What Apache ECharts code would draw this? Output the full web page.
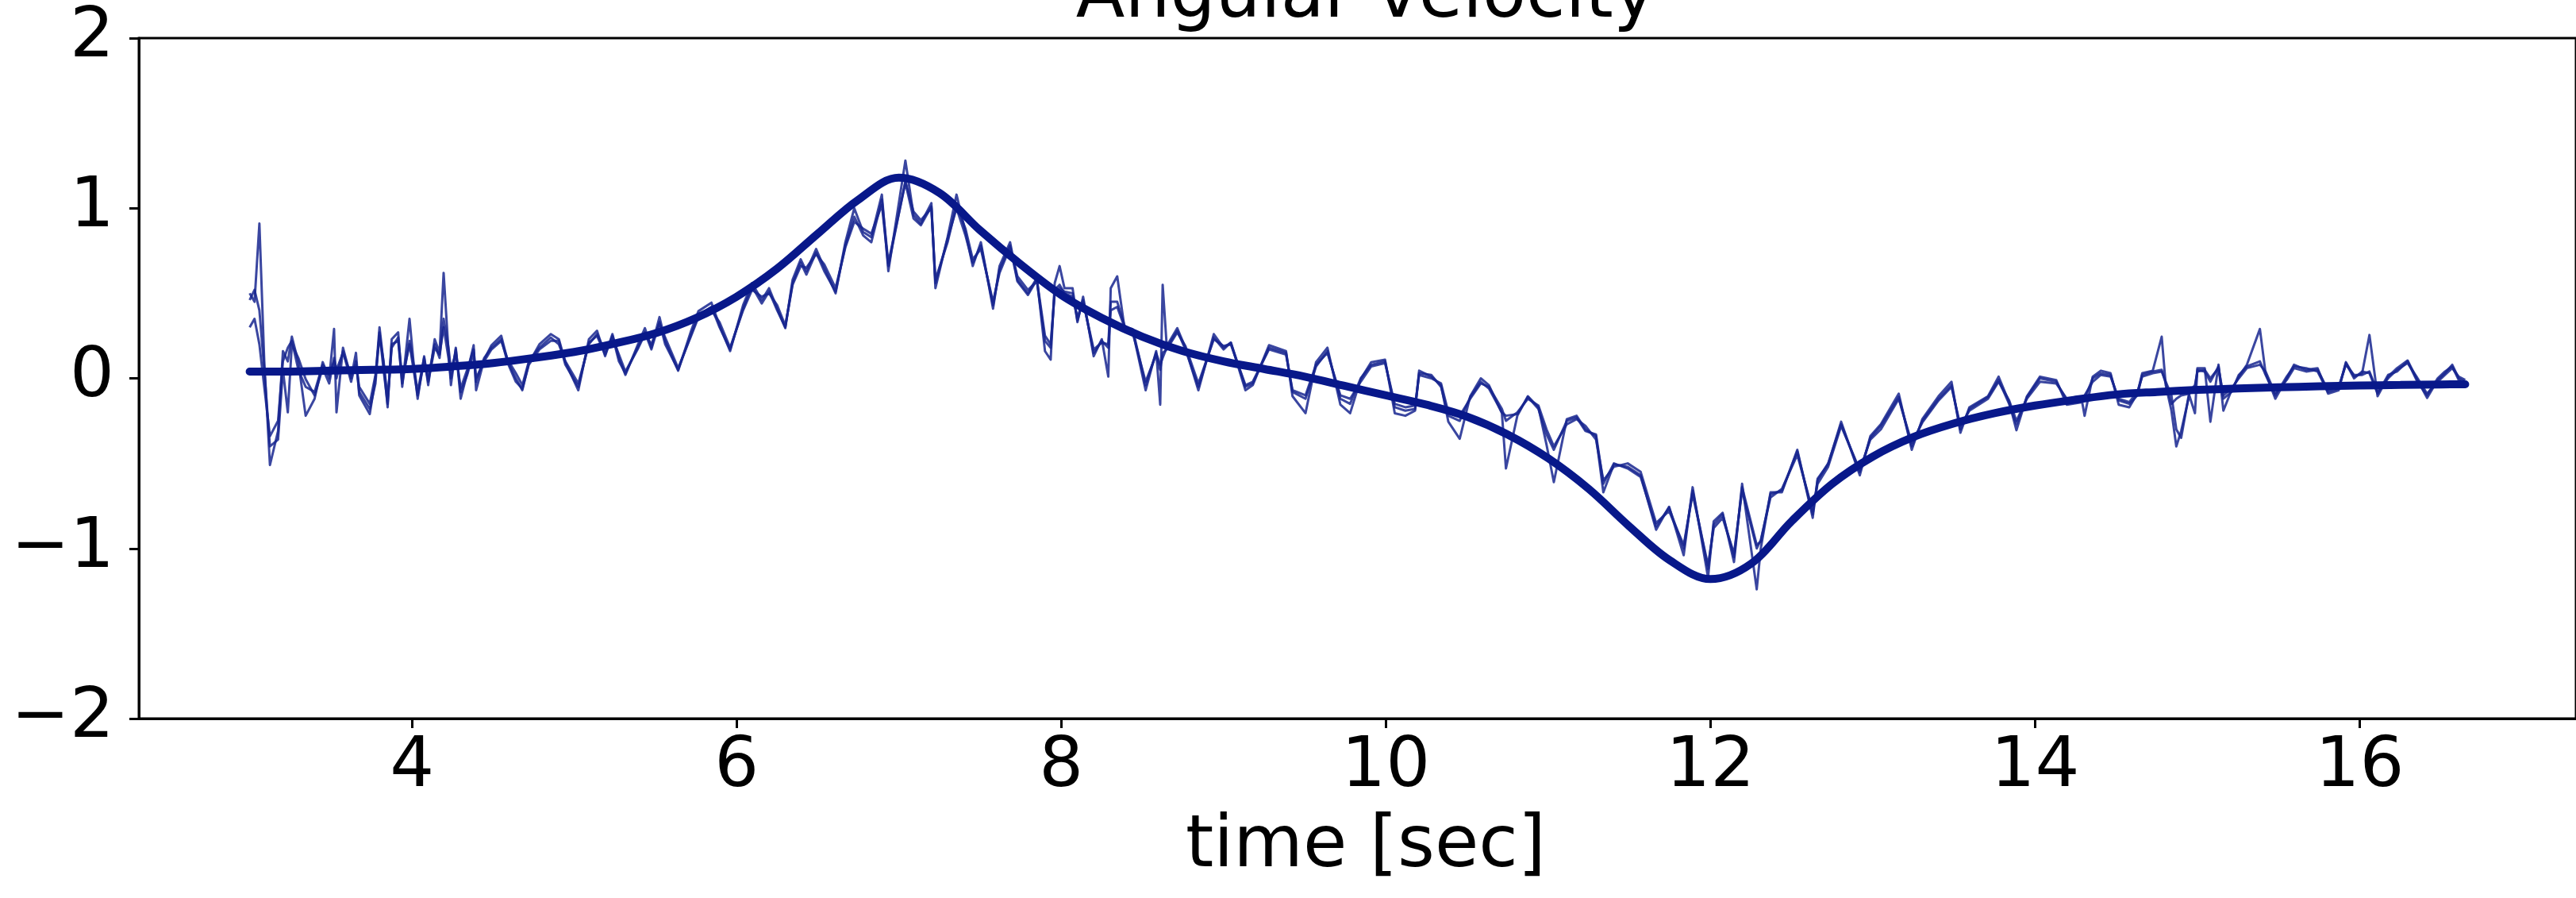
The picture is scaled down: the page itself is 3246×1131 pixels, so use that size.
<!DOCTYPE html>
<html>
<head>
<meta charset="utf-8">
<title>Angular velocity</title>
<style>
  html, body { margin: 0; padding: 0; background: #ffffff; }
  #chart { width: 3246px; height: 1131px; }
</style>
<script src="https://cdn.jsdelivr.net/npm/echarts@6/dist/echarts.min.js"></script>
</head>
<body>
<div id="chart"></div>
<script>
// Fitted angular velocity profile [rad/s] against time [sec]
const fitT = [3.00, 3.25, 3.50, 3.75, 4.00, 4.25, 4.50, 4.75, 5.00, 5.25, 5.50, 5.75,
  6.00, 6.25, 6.50, 6.75, 7.00, 7.25, 7.50, 7.75, 8.00, 8.25, 8.50, 8.75,
  9.00, 9.25, 9.50, 9.75, 10.00, 10.25, 10.50, 10.75, 11.00, 11.25, 11.50, 11.75,
  12.00, 12.25, 12.50, 12.75, 13.00, 13.25, 13.50, 13.75, 14.00, 14.25, 14.50, 14.75,
  15.00, 15.25, 15.50, 15.75, 16.00, 16.25, 16.50, 16.65];
const fitV = [0.04, 0.04, 0.045, 0.05, 0.055, 0.07, 0.09, 0.12, 0.155, 0.205, 0.265, 0.355,
  0.48, 0.645, 0.85, 1.05, 1.18, 1.09, 0.87, 0.67, 0.49, 0.355, 0.245, 0.16,
  0.10, 0.055, 0.01, -0.045, -0.10, -0.155, -0.225, -0.33, -0.47, -0.65, -0.87, -1.07,
  -1.18, -1.09, -0.84, -0.62, -0.46, -0.345, -0.265, -0.205, -0.16, -0.125, -0.095, -0.08,
  -0.068, -0.06, -0.053, -0.047, -0.042, -0.039, -0.036, -0.035];

// Measured gyro traces, sampled at their turning points
const noiseT = [
  3.00, 3.03, 3.06, 3.09, 3.125, 3.175, 3.205, 3.235, 3.26, 3.30, 3.345, 3.40, 3.45, 3.49, 3.52, 3.535,
  3.575, 3.625, 3.655, 3.675, 3.74, 3.775, 3.80, 3.825, 3.85, 3.875, 3.915, 3.94, 3.985, 4.01, 4.035,
  4.075, 4.10, 4.14, 4.17, 4.195, 4.225, 4.24, 4.27, 4.30, 4.34, 4.38, 4.395, 4.445, 4.49, 4.55, 4.59,
  4.64, 4.68, 4.72, 4.785, 4.855, 4.905, 4.945, 5.025, 5.09, 5.14, 5.19,
  5.235, 5.275, 5.315, 5.39, 5.435, 5.475, 5.525, 5.56, 5.64, 5.72, 5.765, 5.845, 5.895, 5.96, 6.04,
  6.095, 6.155, 6.20, 6.25, 6.30, 6.345, 6.395, 6.43, 6.49, 6.54, 6.61, 6.67, 6.725, 6.78, 6.83,
  6.895, 6.935, 7.04, 7.09, 7.135, 7.20, 7.225, 7.30, 7.355, 7.41, 7.455,
  7.505, 7.58, 7.62, 7.685, 7.73, 7.795, 7.85, 7.90, 7.935, 7.96, 7.99, 8.02, 8.07, 8.10, 8.135,
  8.20, 8.25, 8.29, 8.305, 8.345, 8.39, 8.44, 8.52, 8.585, 8.61, 8.625, 8.65, 8.715, 8.765, 8.845,
  8.94, 9.00, 9.045, 9.135, 9.18, 9.28, 9.385, 9.425, 9.505, 9.57, 9.64, 9.72,
  9.78, 9.845, 9.91, 9.995, 10.055, 10.12, 10.18, 10.205, 10.28, 10.34, 10.385, 10.455, 10.52,
  10.585, 10.635, 10.715, 10.74, 10.81, 10.875, 10.94, 10.99, 11.035, 11.115, 11.175, 11.23,
  11.295, 11.34, 11.405, 11.49, 11.57, 11.665, 11.745, 11.835, 11.89, 11.985,
  12.02, 12.075, 12.145, 12.195, 12.285, 12.31, 12.37, 12.44, 12.535, 12.63, 12.66, 12.725,
  12.805, 12.92, 12.985, 13.05, 13.16, 13.24, 13.305, 13.405, 13.485, 13.54, 13.595, 13.71,
  13.775, 13.84, 13.885, 13.95, 14.03, 14.13, 14.195, 14.29,
  14.305, 14.355, 14.405, 14.465, 14.515, 14.58, 14.63, 14.66, 14.725, 14.78, 14.805, 14.84,
  14.87, 14.90, 14.95, 14.985, 15.00, 15.045, 15.08, 15.13, 15.16, 15.21, 15.255, 15.305,
  15.385, 15.42, 15.48, 15.55, 15.595, 15.67, 15.74, 15.805, 15.87, 15.915, 15.965, 16.015,
  16.06, 16.11, 16.175, 16.23, 16.295, 16.35, 16.415, 16.48, 16.525, 16.57, 16.61, 16.65
];
const traceA = [
  0.50, 0.45, 0.91, 0.10, -0.51, -0.31, 0.16, 0.10, 0.245, 0.095, -0.22, -0.12, 0.095, 0.00, 0.29, -0.20,
  0.18, 0.00, 0.15, -0.10, -0.21, 0.00, 0.30, 0.09, -0.17, 0.23, 0.27, -0.05, 0.35, 0.09, -0.12,
  0.13, -0.04, 0.23, 0.15, 0.62, 0.16, -0.04, 0.18, -0.12, 0.03, 0.195, -0.07, 0.11, 0.195, 0.25, 0.10,
  0.00, -0.07, 0.09, 0.20, 0.26, 0.23, 0.095, -0.07, 0.23, 0.28, 0.13,
  0.26, 0.12, 0.02, 0.195, 0.295, 0.18, 0.36, 0.22, 0.045, 0.28, 0.395, 0.445, 0.31, 0.16, 0.43,
  0.56, 0.46, 0.53, 0.41, 0.295, 0.58, 0.70, 0.63, 0.76, 0.65, 0.50, 0.80, 1.00, 0.86, 0.83,
  1.08, 0.63, 1.28, 0.96, 0.91, 1.03, 0.53, 0.83, 1.08, 0.86, 0.66,
  0.80, 0.41, 0.66, 0.80, 0.58, 0.50, 0.59, 0.16, 0.11, 0.56, 0.66, 0.53, 0.53, 0.33, 0.48,
  0.13, 0.23, 0.01, 0.53, 0.60, 0.295, 0.28, -0.07, 0.16, -0.155, 0.55, 0.19, 0.295, 0.18, -0.07,
  0.26, 0.18, 0.21, -0.07, -0.04, 0.195, 0.16, -0.105, -0.205, 0.095, 0.18, -0.155,
  -0.205, -0.005, 0.095, 0.11, -0.205, -0.22, -0.19, 0.045, 0.01, -0.04, -0.255, -0.355, -0.105,
  0.00, -0.04, -0.205, -0.53, -0.22, -0.105, -0.17, -0.39, -0.61, -0.24, -0.22, -0.30,
  -0.34, -0.67, -0.505, -0.52, -0.57, -0.89, -0.755, -1.04, -0.64, -1.17,
  -0.84, -0.79, -1.08, -0.62, -1.24, -1.00, -0.67, -0.67, -0.42, -0.82, -0.59, -0.505,
  -0.255, -0.57, -0.34, -0.27, -0.09, -0.42, -0.24, -0.105, -0.02, -0.32, -0.17, -0.105,
  0.01, -0.14, -0.305, -0.105, 0.01, -0.01, -0.155, -0.14,
  -0.22, 0.01, 0.045, 0.03, -0.155, -0.17, -0.09, 0.03, 0.045, 0.245, -0.04, -0.19,
  -0.40, -0.31, -0.10, -0.205, 0.06, 0.06, -0.255, 0.08, -0.19, -0.07, 0.01, 0.08,
  0.29, 0.03, -0.12, 0.00, 0.08, 0.05, 0.06, -0.09, -0.07, 0.095, 0.01, 0.03,
  0.255, -0.105, 0.01, 0.06, 0.105, 0.00, -0.115, -0.01, 0.03, 0.08, 0.00, -0.02
];
const traceB = [
  0.46, 0.52, 0.40, 0.05, -0.40, -0.36, 0.05, -0.20, 0.20, 0.12, -0.005, -0.10, 0.06, -0.03, 0.12, 0.05,
  0.15, 0.02, 0.08, -0.05, -0.15, 0.02, 0.25, 0.10, -0.12, 0.18, 0.24, 0.00, 0.20, 0.05, -0.10,
  0.10, 0.00, 0.20, 0.12, 0.35, 0.18, 0.05, 0.15, -0.06, 0.05, 0.17, 0.00, 0.10, 0.17, 0.22, 0.11,
  0.03, -0.04, 0.10, 0.18, 0.24, 0.20, 0.10, -0.03, 0.20, 0.26, 0.16,
  0.24, 0.14, 0.04, 0.17, 0.26, 0.20, 0.32, 0.24, 0.06, 0.25, 0.36, 0.40, 0.33, 0.18, 0.40,
  0.52, 0.48, 0.50, 0.43, 0.31, 0.55, 0.66, 0.65, 0.73, 0.67, 0.53, 0.77, 0.92, 0.88, 0.85,
  1.02, 0.66, 1.16, 0.98, 0.93, 1.00, 0.58, 0.80, 1.02, 0.88, 0.70,
  0.76, 0.45, 0.62, 0.77, 0.60, 0.52, 0.57, 0.22, 0.18, 0.52, 0.55, 0.50, 0.48, 0.36, 0.45,
  0.17, 0.21, 0.20, 0.45, 0.45, 0.31, 0.27, -0.02, 0.14, 0.05, 0.15, 0.17, 0.27, 0.19, -0.03,
  0.23, 0.19, 0.20, -0.04, -0.02, 0.17, 0.14, -0.07, -0.10, 0.08, 0.15, -0.10,
  -0.12, -0.02, 0.07, 0.09, -0.15, -0.17, -0.16, 0.02, 0.00, -0.03, -0.20, -0.22, -0.12,
  -0.03, -0.05, -0.18, -0.25, -0.20, -0.12, -0.16, -0.30, -0.40, -0.27, -0.24, -0.28,
  -0.36, -0.60, -0.52, -0.50, -0.55, -0.85, -0.78, -0.98, -0.68, -1.10,
  -0.88, -0.82, -1.03, -0.66, -1.00, -0.95, -0.70, -0.65, -0.45, -0.78, -0.62, -0.52,
  -0.28, -0.54, -0.36, -0.30, -0.12, -0.38, -0.26, -0.13, -0.05, -0.28, -0.19, -0.12,
  -0.02, -0.13, -0.25, -0.12, -0.02, -0.03, -0.12, -0.12,
  -0.10, -0.02, 0.02, 0.01, -0.12, -0.14, -0.08, 0.01, 0.03, 0.04, -0.02, -0.10,
  -0.30, -0.35, -0.08, -0.04, 0.04, 0.05, 0.00, 0.06, -0.10, -0.06, 0.00, 0.06,
  0.08, 0.04, -0.09, -0.01, 0.06, 0.04, 0.05, -0.07, -0.05, 0.08, 0.02, 0.02,
  0.04, -0.08, 0.00, 0.05, 0.09, 0.01, -0.09, -0.02, 0.02, 0.06, 0.01, -0.01
];
const traceC = [
  0.30, 0.35, 0.20, -0.05, -0.34, -0.25, 0.10, 0.18, 0.22, 0.05, -0.05, -0.08, 0.08, 0.02, 0.10, 0.00,
  0.16, -0.02, 0.10, -0.08, -0.18, -0.03, 0.27, 0.05, -0.15, 0.20, 0.22, -0.03, 0.22, 0.08, -0.08,
  0.12, -0.02, 0.18, 0.14, 0.30, 0.12, 0.00, 0.17, -0.08, 0.02, 0.15, -0.02, 0.12, 0.18, 0.23, 0.09,
  -0.02, -0.06, 0.08, 0.17, 0.22, 0.22, 0.08, -0.05, 0.21, 0.25, 0.14,
  0.25, 0.10, 0.03, 0.18, 0.27, 0.17, 0.33, 0.20, 0.05, 0.26, 0.37, 0.42, 0.30, 0.17, 0.41,
  0.54, 0.44, 0.51, 0.40, 0.30, 0.56, 0.68, 0.61, 0.74, 0.63, 0.51, 0.78, 0.95, 0.84, 0.80,
  1.05, 0.68, 1.15, 0.94, 0.90, 1.01, 0.56, 0.82, 1.00, 0.84, 0.68,
  0.78, 0.43, 0.64, 0.78, 0.57, 0.49, 0.58, 0.25, 0.20, 0.50, 0.53, 0.51, 0.50, 0.34, 0.46,
  0.15, 0.22, 0.18, 0.40, 0.42, 0.30, 0.29, -0.04, 0.15, 0.08, 0.12, 0.18, 0.28, 0.17, -0.05,
  0.24, 0.17, 0.21, -0.05, -0.03, 0.18, 0.15, -0.08, -0.12, 0.07, 0.16, -0.12,
  -0.15, 0.00, 0.08, 0.10, -0.17, -0.19, -0.18, 0.03, 0.02, -0.05, -0.22, -0.25, -0.11,
  -0.02, -0.06, -0.20, -0.22, -0.21, -0.11, -0.18, -0.33, -0.42, -0.25, -0.23, -0.31,
  -0.33, -0.62, -0.50, -0.53, -0.58, -0.87, -0.76, -1.00, -0.66, -1.12,
  -0.86, -0.80, -1.05, -0.64, -0.98, -0.96, -0.68, -0.66, -0.43, -0.80, -0.60, -0.50,
  -0.27, -0.55, -0.35, -0.28, -0.11, -0.40, -0.25, -0.12, -0.04, -0.30, -0.18, -0.11,
  -0.01, -0.15, -0.27, -0.11, 0.00, -0.02, -0.13, -0.13,
  -0.12, 0.00, 0.03, 0.02, -0.13, -0.15, -0.10, 0.02, 0.04, 0.05, -0.03, -0.15,
  -0.12, -0.10, -0.09, -0.06, 0.05, 0.04, -0.02, 0.07, -0.12, -0.08, 0.02, 0.07,
  0.10, 0.02, -0.10, 0.01, 0.07, 0.06, 0.04, -0.08, -0.06, 0.09, 0.00, 0.04,
  0.03, -0.09, 0.02, 0.04, 0.10, -0.01, -0.10, 0.00, 0.04, 0.07, -0.01, -0.03
];

// Axis ticks
const xTicks = [4, 6, 8, 10, 12, 14, 16];
const yTicks = [-2, -1, 0, 1, 2];

const FONT = 'DejaVu Sans, Liberation Sans, sans-serif';
const INK = '#000000';
const TRACE_COLOR = '#17268f';
const FIT_COLOR = '#08188a';

const pairs = (xs, ys) => xs.map((x, i) => [x, ys[i]]);
const minusSign = v => String(v).replace('-', '\u2212');

const chart = echarts.init(document.getElementById('chart'), null, { renderer: 'canvas' });

const traceSeries = [traceA, traceB, traceC].map((vals, k) => ({
  name: 'trace ' + (k + 1),
  type: 'line',
  data: pairs(noiseT, vals),
  showSymbol: false,
  silent: true,
  lineStyle: { color: TRACE_COLOR, width: 3, opacity: 0.85, join: 'round' },
  z: 2
}));

chart.setOption({
  animation: false,
  backgroundColor: '#ffffff',
  grid: {
    left: 175, top: 48, width: 3096, height: 857,
    show: true, borderColor: INK, borderWidth: 3, backgroundColor: 'transparent'
  },
  xAxis: {
    type: 'value',
    min: 2.3175,
    max: 17.3325,
    axisLine: { show: true, onZero: false, lineStyle: { color: INK, width: 3 } },
    axisTick: { show: true, length: 12, customValues: xTicks, lineStyle: { color: INK, width: 3 } },
    axisLabel: {
      customValues: xTicks, margin: 18, color: INK, fontSize: 88, fontFamily: FONT,
      formatter: v => minusSign(v)
    },
    splitLine: { show: false }
  },
  yAxis: {
    type: 'value',
    min: -2,
    max: 2,
    interval: 1,
    axisLine: { show: true, onZero: false, lineStyle: { color: INK, width: 3 } },
    axisTick: { show: true, length: 12, customValues: yTicks, lineStyle: { color: INK, width: 3 } },
    axisLabel: {
      customValues: yTicks, margin: 31, color: INK, fontSize: 88, fontFamily: FONT,
      formatter: v => minusSign(v)
    },
    splitLine: { show: false }
  },
  graphic: [
    {
      type: 'text', x: 1721, y: -2, silent: true,
      style: {
        text: 'Angular velocity', fill: INK, font: '90px ' + FONT,
        textAlign: 'center', textVerticalAlign: 'middle'
      }
    },
    {
      type: 'text', x: 1721, y: 1068, silent: true,
      style: {
        text: 'time [sec]', fill: INK, font: '90px ' + FONT,
        textAlign: 'center', textVerticalAlign: 'middle'
      }
    }
  ],
  series: traceSeries.concat([{
    name: 'fit',
    type: 'line',
    data: pairs(fitT, fitV),
    showSymbol: false,
    smooth: 0.35,
    silent: true,
    lineStyle: { color: FIT_COLOR, width: 10, cap: 'round' },
    z: 3
  }])
});
</script>
</body>
</html>
